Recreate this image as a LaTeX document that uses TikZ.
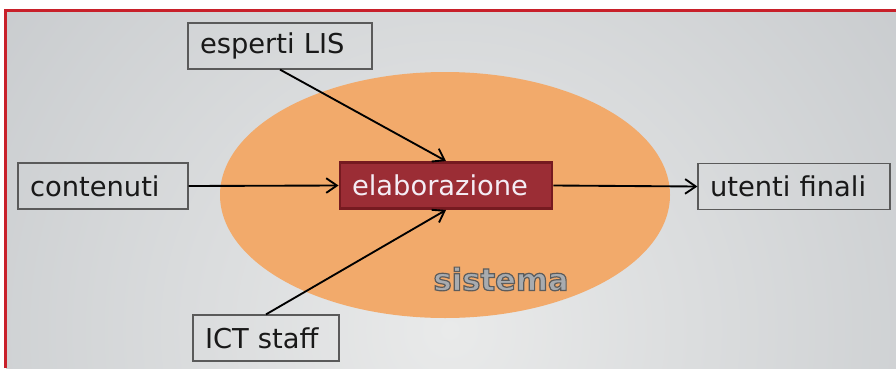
\documentclass[tikz,border=0pt]{standalone}
\usepackage{fontspec}
\setmainfont{DejaVu Sans}
\usetikzlibrary{arrows.meta}

\definecolor{framered}{RGB}{200,32,42}
\definecolor{bgedge}{RGB}{184,188,192}
\definecolor{bgmid}{RGB}{233,234,234}
\definecolor{sysorange}{RGB}{242,170,107}
\definecolor{elabred}{RGB}{155,45,53}
\definecolor{elabedge}{RGB}{118,26,32}
\definecolor{elabtext}{RGB}{244,236,244}
\definecolor{boxline}{RGB}{90,90,90}
\definecolor{sysfill}{RGB}{168,171,175}

% bold word with a dark rim (stroke + fill text mode)
\newcommand{\rimword}[1]{%
  {\color{sysfill}\special{pdf:literal direct 0.36 0.36 0.36 RG 0.9 w 2 Tr}#1\special{pdf:literal direct 0 Tr}}}

\begin{document}
\begin{tikzpicture}[x=0.75pt,y=0.75pt,yscale=-1,xscale=1,
    actor/.style={draw=boxline, line width=0.9pt, text=black!90, align=left,
      inner xsep=9pt, inner ysep=0pt, minimum height=34.5pt,
      font=\fontsize{20.5}{24}\selectfont},
    flow/.style={-{Straight Barb[length=8pt,width=11pt]}, line width=1.4pt, black}]

    \useasboundingbox (0,0) rectangle (896,368);

    % background and frame
    \begin{scope}
        \clip (6,11) rectangle (896,368);
        \shade[inner color=bgmid, outer color=bgedge] (450,330) circle (860);
    \end{scope}
    \draw [framered, line width=1.6pt] (5.5,368) -- (5.5,10.5) -- (896,10.5);

    % sistema
    \fill [sysorange] (445,195) ellipse [x radius=225, y radius=123];
    \node (sys) at (501,279) {\fontsize{23}{26}\selectfont\bfseries\rimword{sistema}};

    \node [actor, text width=120pt] (esperti) at (280,46) {esperti LIS};
    \node [actor, text width=109.5pt] (contenuti) at (103,186) {contenuti};
    \node [actor, text width=126pt] (utenti) at (794,186.5) {utenti finali};
    \node [actor, text width=91.5pt] (ict) at (266,338) {ICT staff};
    \node [actor, draw=elabedge, line width=2.2pt, fill=elabred, text=elabtext,
        text width=141pt] (elab) at (446,185.5) {elaborazione};

    \draw [flow] (esperti.south) -- (elab.north);
    \draw [flow] (ict.north) -- (elab.south);
    \draw [flow] (contenuti.east) -- (elab.west);
    \draw [flow] (elab.east) -- (utenti.west);
\end{tikzpicture}
\end{document}
